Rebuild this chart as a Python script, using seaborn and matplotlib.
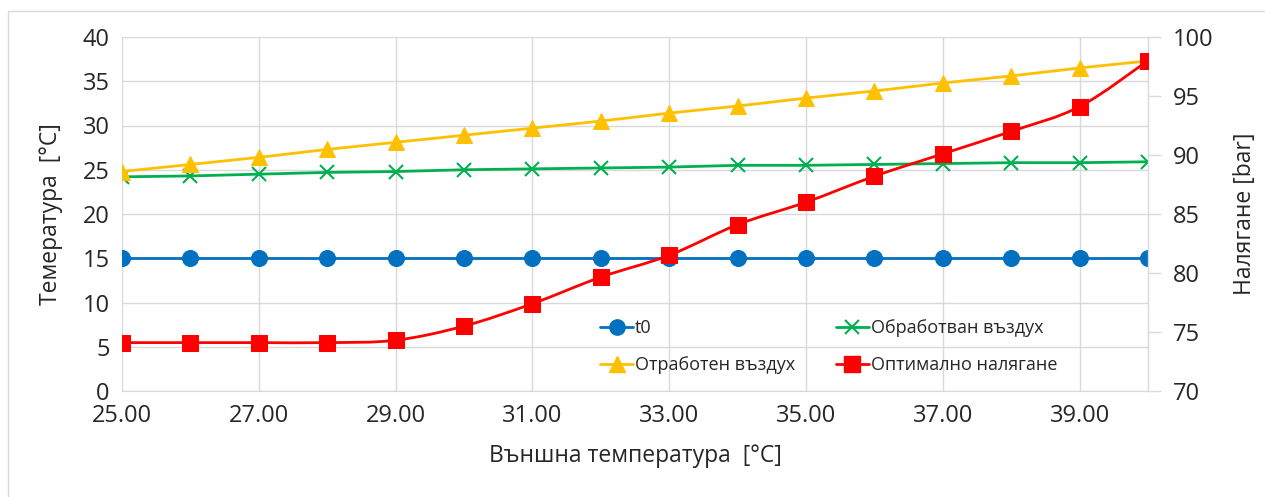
import numpy as np
import pandas as pd
import matplotlib
matplotlib.use('Agg')
import matplotlib.pyplot as plt
import seaborn as sns
from matplotlib.path import Path
from matplotlib.patches import PathPatch
from matplotlib.lines import Line2D

# Данни, отчетени от графиката
t_out = [25, 26, 27, 28, 29, 30, 31, 32, 33, 34, 35, 36, 37, 38, 39, 40]
t0 = [15] * 16
processed_air = [24.2, 24.3, 24.5, 24.7, 24.8, 25.0, 25.1, 25.2,
                 25.3, 25.5, 25.5, 25.6, 25.7, 25.8, 25.8, 25.9]
exhaust_air = [24.8, 25.6, 26.4, 27.3, 28.1, 28.9, 29.7, 30.5,
               31.4, 32.2, 33.1, 33.9, 34.8, 35.6, 36.5, 37.3]
opt_pressure = [74.1, 74.1, 74.1, 74.1, 74.3, 75.5, 77.4, 79.65,
                81.5, 84.1, 86.0, 88.2, 90.1, 92.0, 94.1, 98.0]

x_ticks = [25, 27, 29, 31, 33, 35, 37, 39]
left_ticks = [0, 5, 10, 15, 20, 25, 30, 35, 40]
right_ticks = [70, 75, 80, 85, 90, 95, 100]

BLUE, GREEN, YELLOW, RED = '#0070C0', '#00B050', '#FFC000', '#FF0000'
GRID = '#D9D9D9'


def smooth_path(x, y):
    # гладка крива тип Excel (Catmull-Rom -> Безие)
    pts = np.column_stack([x, y]).astype(float)
    n = len(pts)
    verts = [pts[0]]
    codes = [Path.MOVETO]
    for i in range(n - 1):
        p0 = pts[i - 1] if i > 0 else pts[i]
        p1, p2 = pts[i], pts[i + 1]
        p3 = pts[i + 2] if i + 2 < n else pts[i + 1]
        c1 = p1 + (p2 - p0) / 6
        c2 = p2 - (p3 - p1) / 6
        verts += [c1, c2, p2]
        codes += [Path.CURVE4] * 3
    return Path(verts, codes)


def main():
    sns.set_style('white')
    plt.rcParams['font.family'] = ['Open Sans', 'DejaVu Sans']

    df = pd.DataFrame({'x': t_out, 't0': t0, 'proc': processed_air,
                       'exh': exhaust_air, 'p': opt_pressure})

    fig = plt.figure(figsize=(12.65, 4.97), dpi=100)
    ax = fig.add_axes([122 / 1265, 1 - 391 / 497, (1148 - 122) / 1265, (391 - 37) / 497])
    ax2 = ax.twinx()

    sns.lineplot(data=df, x='x', y='t0', ax=ax, color=BLUE, lw=2, marker='o',
                 markersize=11.5, markeredgecolor=BLUE, zorder=3)
    sns.lineplot(data=df, x='x', y='proc', ax=ax, color=GREEN, lw=2, marker='x',
                 markersize=9.5, markeredgewidth=1.5, markeredgecolor=GREEN, zorder=3)
    sns.lineplot(data=df, x='x', y='exh', ax=ax, color=YELLOW, lw=2, marker='^',
                 markersize=11.5, markeredgecolor=YELLOW, zorder=3)
    sns.lineplot(data=df, x='x', y='p', ax=ax2, color=RED, lw=0, marker='s',
                 markersize=11.5, markeredgecolor=RED, zorder=4)
    ax2.add_patch(PathPatch(smooth_path(df['x'], df['p']), fill=False,
                            edgecolor=RED, lw=2, zorder=3))

    ax.set_xlim(25, 40)
    ax.set_ylim(0, 40)
    ax2.set_ylim(70, 100)
    ax.set_xticks(x_ticks)
    ax.set_xticklabels([f'{v:.2f}' for v in x_ticks])
    ax.set_yticks(left_ticks)
    ax2.set_yticks(right_ticks)

    ax.grid(True, color=GRID, lw=1)
    ax.set_axisbelow(True)
    ax2.grid(False)
    for sp in ['top', 'left', 'right']:
        ax.spines[sp].set_visible(False)
    for sp in ['top', 'left', 'bottom']:
        ax2.spines[sp].set_visible(False)
    ax.spines['bottom'].set_color(GRID)
    ax2.spines['right'].set_color(GRID)
    ax2.spines['right'].set_linewidth(1)

    ax.tick_params(axis='both', length=0, labelsize=17, pad=9)
    ax2.tick_params(axis='y', length=9, width=1, color=GRID, labelsize=17, pad=9)

    ax.set_xlabel('Външна температура  [°C]', fontsize=16.5, labelpad=12)
    ax.set_ylabel('Темература  [°C]', fontsize=16.5, labelpad=14)
    ax2.set_ylabel('Налягане [bar]', fontsize=16.5, labelpad=14)

    handles = [
        Line2D([], [], color=BLUE, lw=2, marker='o', markersize=11),
        Line2D([], [], color=YELLOW, lw=2, marker='^', markersize=11),
        Line2D([], [], color=GREEN, lw=2, marker='x', markersize=9.5, markeredgewidth=1.5),
        Line2D([], [], color=RED, lw=2, marker='s', markersize=11),
    ]
    labels = ['t0', 'Отработен въздух', 'Обработван въздух', 'Оптимално налягане']
    ax2.legend(handles, labels, ncol=2, frameon=False, fontsize=13,
               loc='upper left', bbox_to_anchor=(584 / 1265, 1 - 303 / 497),
               bbox_transform=fig.transFigure, handlelength=1.8,
               handletextpad=0.1, columnspacing=2.3, labelspacing=1.05)

    # рамка на диаграмата
    fig.add_artist(Line2D([8 / 1265, 1], [1 - 11 / 497] * 2, color=GRID, lw=1,
                          transform=fig.transFigure))
    fig.add_artist(Line2D([8 / 1265] * 2, [0, 1 - 11 / 497], color=GRID, lw=1,
                          transform=fig.transFigure))

    fig.savefig('out.png', dpi=100)
    plt.close('all')


if __name__ == '__main__':
    main()
